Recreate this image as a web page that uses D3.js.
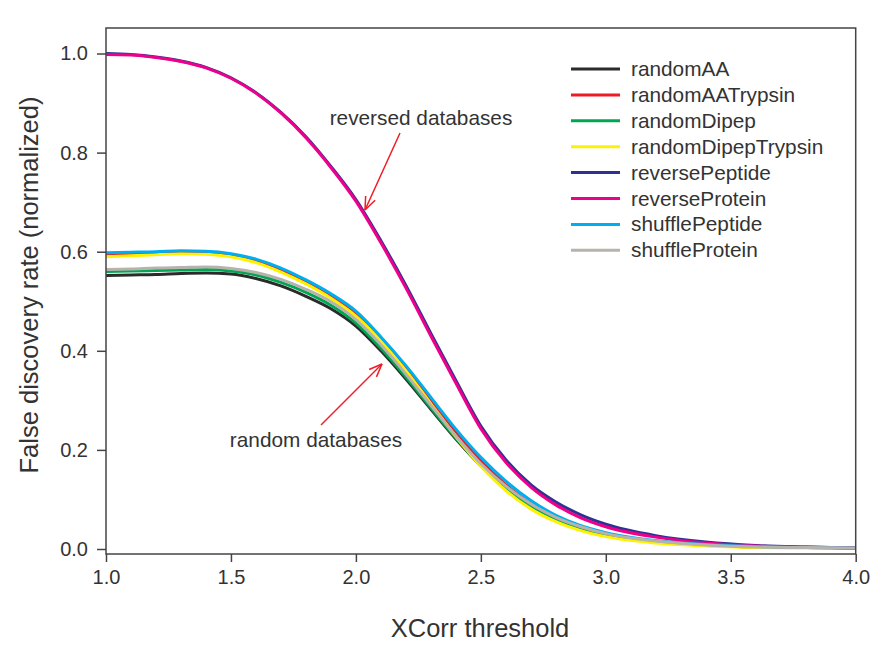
<!DOCTYPE html>
<html><head><meta charset="utf-8">
<script src="https://cdn.jsdelivr.net/npm/d3@7"></script>
<style>body{margin:0;background:#fff}svg{display:block}text{font-family:"Liberation Sans",Arial,Helvetica,sans-serif;fill:#333}</style>
</head><body>
<script>
const xs = [1.0,1.1,1.2,1.3,1.4,1.5,1.6,1.7,1.8,1.9,2.0,2.1,2.2,2.3,2.4,2.5,2.6,2.7,2.8,2.9,3.0,3.2,3.4,3.6,3.8,4.0];
const randomAA          = [0.552,0.553,0.554,0.556,0.557,0.555,0.546,0.531,0.510,0.485,0.450,0.400,0.343,0.282,0.222,0.168,0.123,0.088,0.062,0.043,0.030,0.015,0.008,0.004,0.003,0.002];
const randomAATrypsin   = [0.595,0.596,0.597,0.599,0.599,0.594,0.583,0.564,0.540,0.511,0.476,0.425,0.366,0.300,0.236,0.178,0.130,0.091,0.063,0.043,0.030,0.015,0.008,0.004,0.003,0.002];
const randomDipep       = [0.560,0.561,0.562,0.563,0.564,0.561,0.553,0.538,0.518,0.492,0.456,0.405,0.347,0.285,0.224,0.168,0.122,0.087,0.061,0.042,0.029,0.015,0.008,0.004,0.003,0.002];
const randomDipepTrypsin= [0.590,0.592,0.594,0.596,0.595,0.590,0.578,0.559,0.535,0.506,0.470,0.420,0.360,0.293,0.227,0.167,0.118,0.081,0.055,0.037,0.025,0.012,0.006,0.003,0.002,0.001];
const reversePeptide    = [1.000,0.998,0.993,0.985,0.972,0.951,0.921,0.881,0.832,0.772,0.705,0.622,0.532,0.435,0.340,0.248,0.180,0.130,0.095,0.069,0.050,0.027,0.014,0.007,0.004,0.002];
const reverseProtein    = [0.998,0.997,0.992,0.984,0.971,0.950,0.920,0.880,0.830,0.770,0.702,0.618,0.527,0.430,0.335,0.243,0.175,0.125,0.089,0.063,0.045,0.024,0.012,0.006,0.004,0.002];
const shufflePeptide    = [0.598,0.599,0.600,0.602,0.601,0.596,0.585,0.567,0.543,0.515,0.480,0.428,0.370,0.306,0.242,0.185,0.137,0.098,0.068,0.047,0.033,0.017,0.009,0.005,0.003,0.002];
const shuffleProtein    = [0.564,0.565,0.567,0.568,0.569,0.566,0.558,0.544,0.524,0.499,0.463,0.412,0.353,0.290,0.228,0.172,0.127,0.091,0.064,0.045,0.031,0.016,0.008,0.004,0.003,0.002];
const seriesNames = ["randomAA","randomAATrypsin","randomDipep","randomDipepTrypsin","reversePeptide","reverseProtein","shufflePeptide","shuffleProtein"];
const seriesValues = [randomAA,randomAATrypsin,randomDipep,randomDipepTrypsin,reversePeptide,reverseProtein,shufflePeptide,shuffleProtein];
const seriesColors = ["#2b2b2b","#ed1c24","#00a651","#fff200","#2e3192","#ec008c","#00aeef","#b8b2ad"];
const xTicks = [1.0,1.5,2.0,2.5,3.0,3.5,4.0];
const yTicks = [0.0,0.2,0.4,0.6,0.8,1.0];
const annotations = [{text:"reversed databases"},{text:"random databases"}];

const W=891,H=653;
const L=106,R=855.7,T=28,B=554;
const svg=d3.select("body").append("svg").attr("width",W).attr("height",H);
const x=d3.scaleLinear().domain([1,4]).range([L,R]);
const y=d3.scaleLinear().domain([0,1]).range([549,53.5]);

// lines
const line=d3.line().x(d=>x(d[0])).y(d=>y(d[1])).curve(d3.curveMonotoneX);
const g=svg.append("g");
seriesValues.forEach((vals,i)=>{
  g.append("path").datum(xs.map((v,j)=>[v,vals[j]]))
   .attr("d",line).attr("fill","none").attr("stroke",seriesColors[i])
   .attr("stroke-width",3).attr("stroke-linejoin","round");
});

// frame
svg.append("rect").attr("x",L).attr("y",T).attr("width",R-L).attr("height",B-T)
  .attr("fill","none").attr("stroke","#444").attr("stroke-width",1.5);

// axes
const xAxis=svg.append("g").attr("transform",`translate(0,${B})`)
  .call(d3.axisBottom(x).tickValues(xTicks).tickFormat(d3.format(".1f")).tickSize(8).tickSizeOuter(0).tickPadding(8));
const yAxis=svg.append("g").attr("transform",`translate(${L},0)`)
  .call(d3.axisLeft(y).tickValues(yTicks).tickFormat(d3.format(".1f")).tickSize(9).tickSizeOuter(0).tickPadding(9));
[xAxis,yAxis].forEach(a=>{
  a.select(".domain").remove();
  a.selectAll("line").attr("stroke","#444").attr("stroke-width",1.5);
  a.selectAll("text").attr("font-size",20).style("fill","#333").attr("font-family",null);
});

svg.append("text").attr("x",480).attr("y",637).attr("text-anchor","middle")
  .attr("font-size",25.5).text("XCorr threshold");
svg.append("text").attr("transform",`translate(38,285) rotate(-90)`).attr("text-anchor","middle")
  .attr("font-size",25.5).text("False discovery rate (normalized)");

// legend
const lg=svg.append("g");
seriesNames.forEach((n,i)=>{
  const yy=69+i*25.9;
  lg.append("line").attr("x1",571).attr("x2",620).attr("y1",yy).attr("y2",yy)
    .attr("stroke",seriesColors[i]).attr("stroke-width",3);
  lg.append("text").attr("x",631).attr("y",yy+7).attr("font-size",20.8).text(n);
});

// annotations
function arrow(x1,y1,x2,y2){
  svg.append("line").attr("x1",x1).attr("y1",y1).attr("x2",x2).attr("y2",y2)
    .attr("stroke","#ee1c25").attr("stroke-width",1.5);
  const a=Math.atan2(y2-y1,x2-x1),s=14,w=0.38;
  [a+Math.PI-w,a+Math.PI+w].forEach(b=>{
    svg.append("line").attr("x1",x2).attr("y1",y2)
      .attr("x2",x2+s*Math.cos(b)).attr("y2",y2+s*Math.sin(b))
      .attr("stroke","#ee1c25").attr("stroke-width",1.5);
  });
}
svg.append("text").attr("x",421).attr("y",125).attr("text-anchor","middle").attr("font-size",20.8).text(annotations[0].text);
arrow(400,133,365,210);
svg.append("text").attr("x",316).attr("y",447).attr("text-anchor","middle").attr("font-size",20.8).text(annotations[1].text);
arrow(321,425,382,364);
</script>
</body></html>
